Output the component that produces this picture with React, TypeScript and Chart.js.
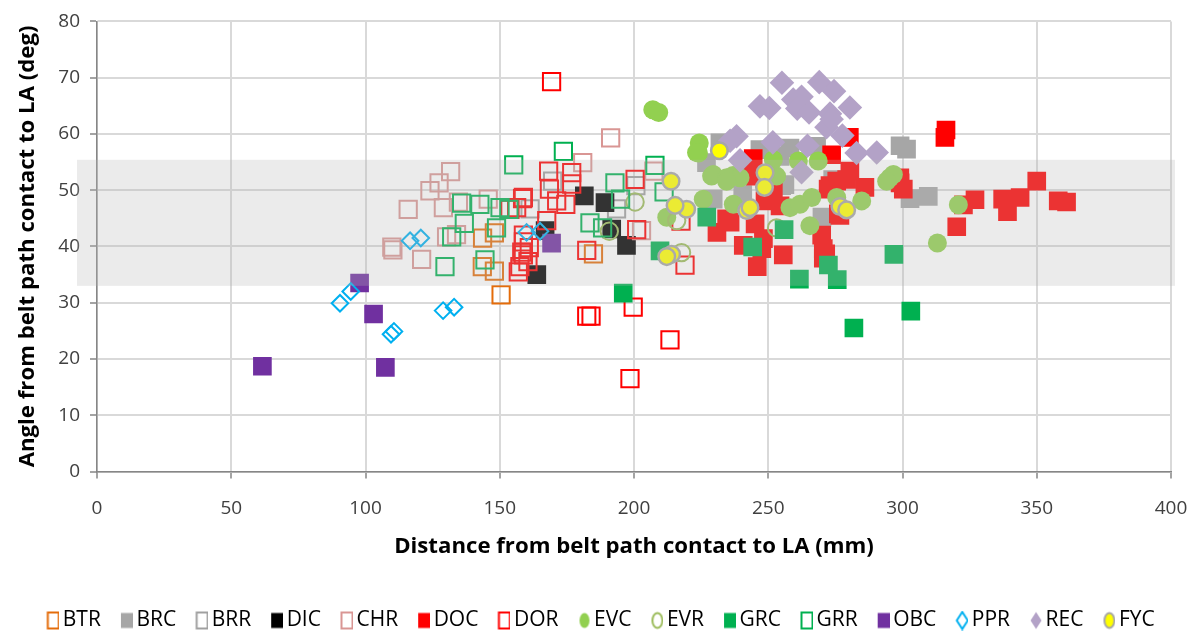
import React, { useEffect, useRef } from "react";
import { Chart, registerables } from "chart.js";

Chart.register(...registerables);

type P = [number, number];

// ---- data (x: distance mm, y: angle deg) ----
const BTR: P[] = [[143.6, 41.5], [148.0, 42.4], [143.5, 36.4], [148.0, 35.6], [150.5, 31.4], [184.9, 38.7]];
const BRC: P[] = [[232.0, 58.4], [227.0, 54.9], [229.5, 48.4], [246.9, 57.2], [254.4, 56.0], [255.0, 50.8], [256.2, 51.0], [258.1, 57.5], [268.0, 57.8], [270.0, 45.2], [274.0, 51.9], [299.1, 57.9], [301.5, 57.3], [302.8, 48.5], [309.6, 48.9], [240.5, 49.2]];
const BRR: P[] = [[169.7, 51.6], [200.7, 50.8], [193.5, 46.7], [161.3, 46.7]];
const DIC: P[] = [[163.8, 35.0], [166.9, 42.8], [181.5, 49.0], [189.2, 47.8], [191.7, 43.1], [197.2, 40.2]];
const CHR: P[] = [[109.8, 39.9], [110.2, 39.4], [115.9, 46.6], [120.9, 37.7], [124.0, 49.9], [127.4, 51.3], [129.0, 46.9], [131.7, 53.3], [130.2, 41.7], [133.9, 42.1], [134.6, 47.9], [145.7, 48.4], [180.9, 54.9], [191.3, 59.3], [207.4, 53.4], [202.8, 42.8]];
const DOC: P[] = [[316.2, 60.7], [315.8, 59.4], [350.0, 51.6], [339.1, 46.2], [337.3, 48.4], [343.8, 48.7], [358.0, 48.1], [361.1, 47.9], [327.0, 48.3], [322.7, 47.4], [320.2, 43.5], [300.3, 50.2], [299.0, 52.2], [280.2, 59.4], [244.4, 55.6], [273.6, 56.3], [280.4, 53.4], [286.0, 50.5], [275.5, 51.6], [272.3, 50.2], [299.1, 51.3], [245.1, 52.5], [250.7, 49.0], [254.4, 47.2], [234.5, 44.9], [230.9, 42.5], [245.1, 44.0], [269.9, 42.0], [240.7, 40.2], [247.6, 39.6], [255.6, 38.5], [270.5, 39.6], [276.7, 45.5], [245.9, 36.4], [270.5, 37.9], [279.2, 51.9], [273.0, 50.8], [235.8, 44.3], [248.2, 41.4], [271.4, 38.7], [248.8, 48.1], [251.9, 49.6], [276.1, 45.8], [243.5, 53.0]];
const DOR: P[] = [[169.3, 69.3], [168.2, 53.4], [176.8, 53.1], [168.5, 50.2], [176.8, 51.1], [158.8, 48.7], [171.2, 48.1], [174.6, 47.5], [200.4, 51.9], [201.0, 43.0], [167.5, 44.6], [153.8, 46.6], [182.4, 27.6], [184.0, 27.6], [199.7, 29.2], [213.4, 23.4], [198.5, 16.5], [219.0, 36.7], [182.4, 39.3], [157.5, 36.4], [158.8, 38.5], [158.5, 48.5], [156.3, 46.9], [158.8, 42.0], [158.2, 39.0], [156.9, 35.5], [158.8, 40.8], [217.5, 44.5], [160.5, 37.3], [161.0, 39.8]];
const EVC: P[] = [[207.0, 64.3], [209.2, 63.8], [224.3, 58.4], [224.0, 56.6], [223.3, 56.7], [228.9, 52.5], [229.5, 52.8], [234.5, 52.2], [236.9, 52.6], [239.5, 52.2], [234.5, 51.6], [253.1, 52.5], [251.9, 55.4], [261.2, 55.2], [268.6, 55.2], [225.8, 48.4], [237.0, 47.5], [258.1, 46.9], [261.8, 47.5], [266.2, 48.7], [275.5, 48.7], [284.8, 48.1], [265.5, 43.7], [295.3, 52.2], [296.6, 52.8], [294.1, 51.6], [320.8, 47.4], [313.0, 40.6], [212.2, 45.2]];
const EVR: P[] = [[200.4, 47.9], [190.8, 42.7], [215.9, 44.6], [217.7, 38.9], [253.1, 43.3]];
const GRC: P[] = [[196.0, 31.7], [209.7, 39.2], [227.1, 45.2], [244.2, 39.9], [255.9, 43.0], [261.6, 34.2], [272.4, 36.7], [275.7, 34.1], [281.9, 25.5], [296.8, 38.6], [303.1, 28.5]];
const GRR: P[] = [[129.6, 36.4], [132.1, 41.7], [136.8, 44.1], [135.8, 47.7], [142.6, 47.5], [144.5, 37.6], [150.1, 46.9], [148.8, 43.3], [153.4, 46.6], [155.2, 54.5], [173.7, 56.9], [183.6, 44.2], [188.3, 43.3], [192.9, 51.3], [195.0, 48.4], [207.8, 54.4], [211.2, 49.7]];
const OBC: P[] = [[61.6, 18.7], [97.8, 33.5], [103.0, 28.0], [107.4, 18.5], [169.3, 40.6]];
const PPR: P[] = [[90.5, 29.9], [94.5, 32.0], [116.6, 41.0], [120.6, 41.5], [128.9, 28.6], [133.0, 29.2], [109.5, 24.4], [110.6, 24.9], [160.0, 42.5], [165.0, 42.7]];
const REC: P[] = [[255.1, 69.1], [269.0, 69.2], [274.5, 67.6], [246.9, 64.9], [250.4, 64.6], [259.3, 66.1], [262.4, 66.6], [260.8, 64.5], [265.2, 63.8], [273.0, 63.6], [280.4, 64.7], [271.7, 61.2], [273.6, 62.6], [277.6, 59.7], [238.2, 59.6], [235.8, 58.8], [251.7, 58.5], [264.6, 57.9], [239.5, 55.3], [282.9, 56.6], [290.4, 56.7], [262.4, 53.2]];
const FYC: P[] = [[231.8, 57.0], [248.8, 53.1], [248.6, 50.5], [242.0, 46.4], [243.2, 46.9], [276.7, 47.1], [279.2, 46.5], [219.6, 46.6], [213.8, 51.6], [215.3, 47.3], [214.0, 38.6], [212.2, 38.2]];

const SERIES_NAMES = ["BTR", "BRC", "BRR", "DIC", "CHR", "DOC", "DOR", "EVC", "EVR", "GRC", "GRR", "OBC", "PPR", "REC", "FYC"];
const SERIES_DATA: P[][] = [BTR, BRC, BRR, DIC, CHR, DOC, DOR, EVC, EVR, GRC, GRR, OBC, PPR, REC, FYC];

const X_MIN = 0, X_MAX = 400, X_STEP = 50;
const Y_MIN = 0, Y_MAX = 80, Y_STEP = 10;
const BAND_LO = 33;
const BAND_HI = 55.4;

const X_TITLE = "Distance from belt path contact to LA (mm)";
const Y_TITLE = "Angle from belt path contact to LA (deg)";

// ---- styles ----
type Kind = "sqFill" | "sqLine" | "dot" | "ring" | "dotEdge" | "dmdLine" | "dmdFill";
const STYLE: Record<string, { kind: Kind; color: string; edge?: string }> = {
  BTR: { kind: "sqLine", color: "#E46C0A" },
  BRC: { kind: "sqFill", color: "#A6A6A6" },
  BRR: { kind: "sqLine", color: "#A0A0A0" },
  DIC: { kind: "sqFill", color: "#000000" },
  CHR: { kind: "sqLine", color: "#D99694" },
  DOC: { kind: "sqFill", color: "#FF0000" },
  DOR: { kind: "sqLine", color: "#FF0000" },
  EVC: { kind: "dot", color: "#92D050" },
  EVR: { kind: "ring", color: "#9BBB59" },
  GRC: { kind: "sqFill", color: "#00B050" },
  GRR: { kind: "sqLine", color: "#00B050" },
  OBC: { kind: "sqFill", color: "#7030A0" },
  PPR: { kind: "dmdLine", color: "#00B0F0" },
  REC: { kind: "dmdFill", color: "#B3A2C7" },
  FYC: { kind: "dotEdge", color: "#FFFF00", edge: "#A6A6A6" },
};

const FONT = "'Open Sans', 'Liberation Sans', Arial, sans-serif";
const TRANSPARENT = "rgba(0,0,0,0)";

function pointProps(kind: Kind, color: string, edge?: string) {
  switch (kind) {
    case "sqFill": return { pointStyle: "rect", pointRadius: 13.2, backgroundColor: color, borderColor: color, borderWidth: 0 };
    case "sqLine": return { pointStyle: "rect", pointRadius: 12.2, backgroundColor: TRANSPARENT, borderColor: color, borderWidth: 2 };
    case "dot": return { pointStyle: "circle", pointRadius: 9.5, backgroundColor: color, borderColor: color, borderWidth: 0 };
    case "ring": return { pointStyle: "circle", pointRadius: 8.7, backgroundColor: TRANSPARENT, borderColor: color, borderWidth: 2 };
    case "dotEdge": return { pointStyle: "circle", pointRadius: 8.3, backgroundColor: color, borderColor: edge, borderWidth: 2.5 };
    case "dmdLine": return { pointStyle: "rectRot", pointRadius: 8.3, backgroundColor: TRANSPARENT, borderColor: color, borderWidth: 2 };
    case "dmdFill": return { pointStyle: "rectRot", pointRadius: 12.3, backgroundColor: color, borderColor: color, borderWidth: 0 };
  }
}

function legendMarker(kind: Kind, color: string, edge?: string): HTMLCanvasElement {
  const c = document.createElement("canvas");
  c.width = 18; c.height = 20;
  const g = c.getContext("2d")!;
  const cx = 12, cy = 10;
  g.lineWidth = 2;
  if (kind === "sqFill") { g.fillStyle = color; g.fillRect(cx - 6, cy - 7.5, 12, 15); }
  else if (kind === "sqLine") { g.strokeStyle = color; g.strokeRect(cx - 5.5, cy - 8, 11, 16); }
  else if (kind === "dot" || kind === "ring" || kind === "dotEdge") {
    g.beginPath(); g.ellipse(cx, cy, 5, 7.5, 0, 0, Math.PI * 2);
    if (kind === "dot") { g.fillStyle = color; g.fill(); }
    else if (kind === "ring") { g.strokeStyle = color; g.stroke(); }
    else { g.fillStyle = color; g.fill(); g.strokeStyle = edge || "#A6A6A6"; g.stroke(); }
  } else {
    g.beginPath(); g.moveTo(cx, cy - 8.5); g.lineTo(cx + 5.5, cy); g.lineTo(cx, cy + 8.5); g.lineTo(cx - 5.5, cy); g.closePath();
    if (kind === "dmdFill") { g.fillStyle = color; g.fill(); } else { g.strokeStyle = color; g.stroke(); }
  }
  return c;
}

const bandPlugin = {
  id: "band",
  afterLayout(chart: any) {
    const lg = chart.legend;
    if (lg) { lg.left += 16; lg.right += 16; lg.top += 7; lg.bottom += 7; }
  },
  afterDatasetsDraw(chart: any) {
    const { ctx, chartArea, scales } = chart;
    const top = scales.y.getPixelForValue(BAND_HI);
    const bot = scales.y.getPixelForValue(BAND_LO);
    ctx.save();
    ctx.fillStyle = "rgba(182,182,182,0.28)";
    ctx.fillRect(chartArea.left - 20, top, chartArea.right - chartArea.left + 24, bot - top);
    ctx.restore();
  },
};

export default function App() {
  const ref = useRef<HTMLCanvasElement | null>(null);
  useEffect(() => {
    if (!ref.current) return;
    const n = SERIES_NAMES.length;
    const markers = SERIES_NAMES.map((nm) => legendMarker(STYLE[nm].kind, STYLE[nm].color, STYLE[nm].edge));
    const datasets = SERIES_NAMES.map((nm, i) => ({
      label: nm,
      data: SERIES_DATA[i].map(([x, y]) => ({ x, y })),
      order: n - i,
      ...pointProps(STYLE[nm].kind, STYLE[nm].color, STYLE[nm].edge),
    }));
    const chart = new Chart(ref.current, {
      type: "scatter",
      data: { datasets: datasets as any },
      plugins: [bandPlugin],
      options: {
        animation: false,
        responsive: false,
        devicePixelRatio: 1,
        events: [],
        layout: { padding: { top: 17, right: 27, left: 0, bottom: 0 } },
        scales: {
          x: {
            type: "linear", min: X_MIN, max: X_MAX,
            afterFit: (s: any) => { s.height = 110.5; s.paddingLeft = 0; s.paddingRight = 0; },
            ticks: { stepSize: X_STEP, color: "#404040", padding: 19, font: { family: FONT, size: 19 } },
            grid: { color: "#D9D9D9", lineWidth: 2, tickColor: "#868686", tickLength: 7, tickWidth: 1.5 },
            border: { color: "#868686", width: 1.5 },
            title: { display: true, text: X_TITLE, color: "#000", font: { family: FONT, size: 22.2, weight: "bold" }, padding: { top: 0, bottom: 22 } },
          },
          y: {
            type: "linear", min: Y_MIN, max: Y_MAX,
            afterFit: (s: any) => { s.width = 97; },
            ticks: { stepSize: Y_STEP, color: "#404040", padding: 10, font: { family: FONT, size: 19 } },
            grid: { color: "#D9D9D9", lineWidth: 2, tickColor: "#868686", tickLength: 7, tickWidth: 1.5 },
            border: { color: "#868686", width: 1.5 },
            title: { display: true, text: Y_TITLE, color: "#000", font: { family: FONT, size: 22.2, weight: "bold" }, padding: { top: 14, bottom: 0 } },
          },
        },
        plugins: {
          tooltip: { enabled: false },
          legend: {
            position: "bottom",
            labels: {
              usePointStyle: true,
              pointStyleWidth: 4,
              padding: 21,
              color: "#000",
              font: { family: FONT, size: 21 },
              generateLabels: (ch: any) => {
                const items = Chart.defaults.plugins.legend.labels.generateLabels(ch);
                return items.map((it: any) => ({ ...it, pointStyle: markers[it.datasetIndex] }));
              },
              sort: (a: any, b: any) => a.datasetIndex - b.datasetIndex,
            },
          },
        },
      } as any,
    });
    return () => chart.destroy();
  }, []);
  return (
    <div style={{ position: "fixed", left: 0, top: 0, width: 1198, height: 634, background: "#fff" }}>
      <canvas ref={ref} width={1198} height={634} style={{ display: "block" }} />
    </div>
  );
}
